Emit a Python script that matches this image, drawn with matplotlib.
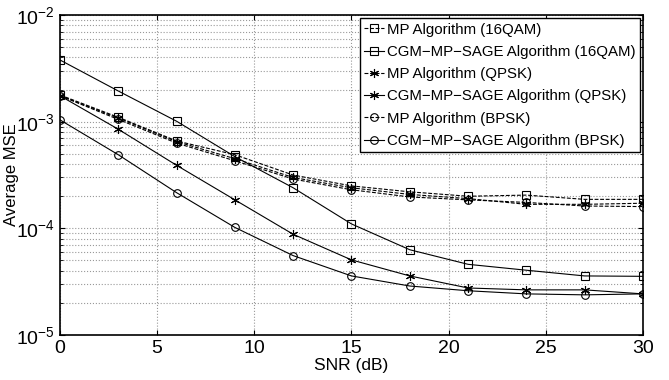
import numpy as np
import matplotlib
matplotlib.use('Agg')
import matplotlib.pyplot as plt

plt.rcParams['font.family'] = ['Liberation Sans', 'DejaVu Sans']

snr = [0, 3, 6, 9, 12, 15, 18, 21, 24, 27, 30]

mp_16qam = [1.78e-3, 1.10e-3, 6.6e-4, 4.9e-4, 3.16e-4, 2.5e-4, 2.2e-4, 2.0e-4, 2.05e-4, 1.87e-4, 1.87e-4]
cgm_16qam = [3.79e-3, 1.94e-3, 1.01e-3, 4.7e-4, 2.4e-4, 1.10e-4, 6.3e-5, 4.6e-5, 4.05e-5, 3.58e-5, 3.55e-5]
mp_qpsk = [1.76e-3, 1.08e-3, 6.5e-4, 4.5e-4, 3.0e-4, 2.4e-4, 2.08e-4, 1.9e-4, 1.68e-4, 1.68e-4, 1.72e-4]
cgm_qpsk = [1.75e-3, 8.5e-4, 3.9e-4, 1.85e-4, 8.8e-5, 5.06e-5, 3.58e-5, 2.76e-5, 2.65e-5, 2.65e-5, 2.43e-5]
mp_bpsk = [1.75e-3, 1.05e-3, 6.3e-4, 4.3e-4, 2.9e-4, 2.3e-4, 1.97e-4, 1.85e-4, 1.75e-4, 1.62e-4, 1.6e-4]
cgm_bpsk = [1.04e-3, 4.9e-4, 2.16e-4, 1.02e-4, 5.55e-5, 3.58e-5, 2.88e-5, 2.6e-5, 2.43e-5, 2.38e-5, 2.43e-5]

fig = plt.figure(figsize=(6.69, 3.80), dpi=100)
ax = fig.add_axes([0.0897, 0.1184, 0.8714, 0.842])

ms = 5.5
star = (6, 2, 0)  # matlab-style asterisk
dash = (3.5, 1.5)
ax.plot(snr, mp_16qam, 'k--s', dashes=dash, lw=0.8, ms=ms, mfc='none', mew=0.8, label='MP Algorithm (16QAM)')
ax.plot(snr, cgm_16qam, 'k-s', lw=0.8, ms=ms, mfc='none', mew=0.8, label='CGM\u2212MP\u2212SAGE Algorithm (16QAM)')
ax.plot(snr, mp_qpsk, 'k--', marker=star, dashes=dash, lw=0.8, ms=ms + 1, mew=0.8, label='MP Algorithm (QPSK)')
ax.plot(snr, cgm_qpsk, 'k-', marker=star, lw=0.8, ms=ms + 1, mew=0.8, label='CGM\u2212MP\u2212SAGE Algorithm (QPSK)')
ax.plot(snr, mp_bpsk, 'k--o', dashes=dash, lw=0.8, ms=ms, mfc='none', mew=0.8, label='MP Algorithm (BPSK)')
ax.plot(snr, cgm_bpsk, 'k-o', lw=0.8, ms=ms, mfc='none', mew=0.8, label='CGM\u2212MP\u2212SAGE Algorithm (BPSK)')

ax.set_yscale('log')
ax.set_xlim(0, 30)
ax.set_ylim(1e-5, 1e-2)
ax.set_xticks([0, 5, 10, 15, 20, 25, 30])
ax.grid(True, which='major', ls=':', color='#999999', lw=0.8)
ax.grid(True, which='minor', axis='y', ls=':', color='#999999', lw=0.8)
ax.tick_params(labelsize=14, direction='in', which='both', top=True, right=True)
for s in ax.spines.values():
    s.set_linewidth(1.2)

ax.set_xlabel('SNR (dB)', fontsize=12.5, labelpad=1)
ax.set_ylabel('Average MSE', fontsize=12, labelpad=-2)

leg = ax.legend(loc='upper right', fontsize=10.8, handlelength=1.3, handletextpad=0.2,
                labelspacing=0.55, borderpad=0.3, fancybox=False, framealpha=1,
                edgecolor='black', borderaxespad=0.2)
leg.get_frame().set_linewidth(1.0)

fig.savefig('out.png', dpi=100)
